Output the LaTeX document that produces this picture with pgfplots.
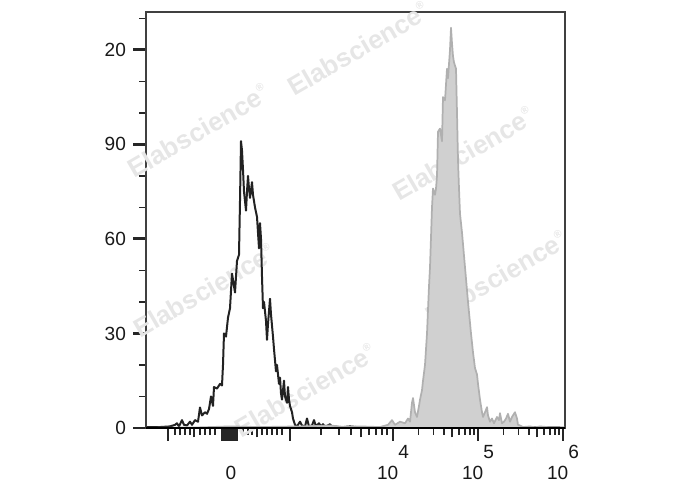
\documentclass[border=0pt]{standalone}
\usepackage{fontspec}
\setmainfont{Liberation Sans}
\usepackage{pgfplots}
\pgfplotsset{compat=1.18}
\definecolor{fillgray}{HTML}{D0D0D0}
\definecolor{linegray}{HTML}{B0B0B0}
\definecolor{wm}{HTML}{E6E6E6}
\definecolor{curveblack}{HTML}{222222}
\newcommand{\wmark}{Elabscience\textsuperscript{\raisebox{2pt}{\fontsize{8}{8}\selectfont ®}}}
\newcommand{\sx}[1]{10\raisebox{15.5pt}{#1}}
\begin{document}
\begin{tikzpicture}
\begin{axis}[
  scale only axis, width=314.25pt, height=312pt,
  xmin=146, xmax=565, ymin=0, ymax=132,
  axis line style={draw=black!75, line width=0.9pt},
  tick align=outside, xtick pos=bottom, ytick pos=left,
  xtick={168,222,223.5,225,226.5,228,229.5,231,232.5,234,235.5,237,290,393,478,563},
  xticklabels={{},{},{},{},{},{},{},0,{},{},{},{},{},\sx{4},\sx{5},\sx{6}},
  minor xtick={175,180,185,190,200,205,210,215,243,248,252,262,267,272,277,282,
    321,339,351,369,376,382,387,
    418.6,433.5,444.2,459.1,464.8,469.8,474.1,
    503.6,518.5,529.2,544.1,549.8,554.8,559.1},
  extra x ticks={194,257,361,452.4,537.4},
  extra x tick labels={},
  extra x tick style={major tick length=7pt, every major tick/.append style={line width=1.5pt}},
  ytick={0,30,60,90,120}, yticklabels={0,30,60,90,20},
  minor ytick={10,20,40,50,70,80,100,110,130},
  major tick length=9.5pt, minor tick length=5pt,
  every major tick/.append style={line width=2.2pt, black!85},
  every minor tick/.append style={line width=1.1pt, black!85},
  ticklabel style={font=\fontsize{14.3}{17}\selectfont, text=black!90},
  xticklabel style={anchor=base, yshift=-29pt},
  yticklabel style={xshift=-2pt},
  clip=false,
]
\node[rotate=30, text=wm, font=\fontsize{19.5}{19.5}\selectfont\bfseries] at (axis cs:198,94.4) {\wmark};
\node[rotate=30, text=wm, font=\fontsize{19.5}{19.5}\selectfont\bfseries] at (axis cs:358,120.4) {\wmark};
\node[rotate=30, text=wm, font=\fontsize{19.5}{19.5}\selectfont\bfseries] at (axis cs:463,87.1) {\wmark};
\node[rotate=30, text=wm, font=\fontsize{19.5}{19.5}\selectfont\bfseries] at (axis cs:204,43.7) {\wmark};
\node[rotate=30, text=wm, font=\fontsize{19.5}{19.5}\selectfont\bfseries] at (axis cs:305,12.0) {\wmark};
\node[rotate=30, text=wm, font=\fontsize{19.5}{19.5}\selectfont\bfseries] at (axis cs:496,47.8) {\wmark};

% unstained control (black outline)
\addplot[draw=curveblack, line width=1.5pt, line join=round] table {
x y
147 0.3
160 0.3
170 0.5
175 1.0
177 1.5
179 0.5
182 2.5
184 1.0
187 0.8
190 2.0
192 1.0
195 2.5
198 2.0
200 6.5
202 4.0
205 5.0
207 4.5
209 6.0
211 10.0
213 7.0
214 13.0
217 12.5
220 14.0
222 13.5
223 20.0
224 30.0
226 29.0
228 35.0
230 38.0
232 49.0
234 45.0
235 43.0
237 53.0
239 55.0
240 72.0
241 91.0
242 88.0
243 82.0
244 75.0
246 69.0
247 75.0
248 80.0
249 76.0
250 73.0
252 78.0
253 74.0
254 72.0
255 70.0
257 67.0
258 62.0
259 57.0
260 65.0
261 60.0
262 48.0
263 38.0
264 40.0
266 34.0
267 28.0
268 33.0
270 41.0
271 36.0
273 29.0
274 25.0
276 18.0
277 20.0
279 14.0
280 16.0
281 11.0
282 9.0
283 12.0
284 15.0
285 10.0
287 8.0
288 13.0
289 9.0
290 7.0
292 5.0
293 3.0
295 1.0
297 0.5
300 2.0
302 0.8
305 0.5
307 3.0
309 0.5
312 0.8
314 2.5
316 0.5
319 1.5
321 0.5
323 1.2
325 0.3
330 1.2
332 0.3
335 0.5
340 0.2
350 0.5
360 0.2
380 0.2
393 0.8
395 0.2
410 0.2
420 0.6
422 0.2
560 0.2
};

% stained sample (grey filled)
\addplot[fill=fillgray, draw=linegray, line width=1.3pt, line join=round] table {
x y
147 0
200 0.2
230 0.5
260 0.3
300 0.5
330 0.8
345 0.3
360 0.5
380 0.3
388 1.0
392 2.5
395 1.0
400 2.0
405 1.5
408 3.0
410 2.0
412 8.0
413 9.5
415 5.0
417 3.5
419 7.0
420 9.0
422 12.0
423 15.0
425 20.0
427 30.0
429 45.0
430 51.0
432 70.0
433 76.0
435 74.0
436 76.0
437 80.0
438 94.0
440 95.0
441 93.0
442 91.0
443 105.0
445 104.0
447 114.0
448 111.0
450 120.0
451 127.0
452 122.0
453 118.0
454 116.0
456 114.0
457 100.0
458 85.0
459 76.0
460 68.0
462 62.0
465 51.0
468 40.0
471 30.0
473 24.0
475 19.0
477 17.0
478 14.0
480 9.0
482 5.0
483 3.5
485 5.0
487 6.6
488 4.0
490 2.0
492 3.0
494 1.5
497 3.5
499 2.5
500 4.7
502 1.5
504 2.0
506 3.0
508 4.5
510 2.0
512 3.5
515 5.0
517 3.0
518 1.0
520 0.8
523 0.3
530 0.5
535 0.2
540 0.5
550 0.2
564 0.2
564 0
} \closedcycle;

\draw[black, line width=2.2pt] (rel axis cs:0,0) -- (rel axis cs:1,0);
\end{axis}
\pgfresetboundingbox
\path[use as bounding box] ([shift={(-109.5pt,-46.5pt)}]current axis.south west) rectangle ([shift={(92.25pt,9pt)}]current axis.north east);
\end{tikzpicture}
\end{document}
